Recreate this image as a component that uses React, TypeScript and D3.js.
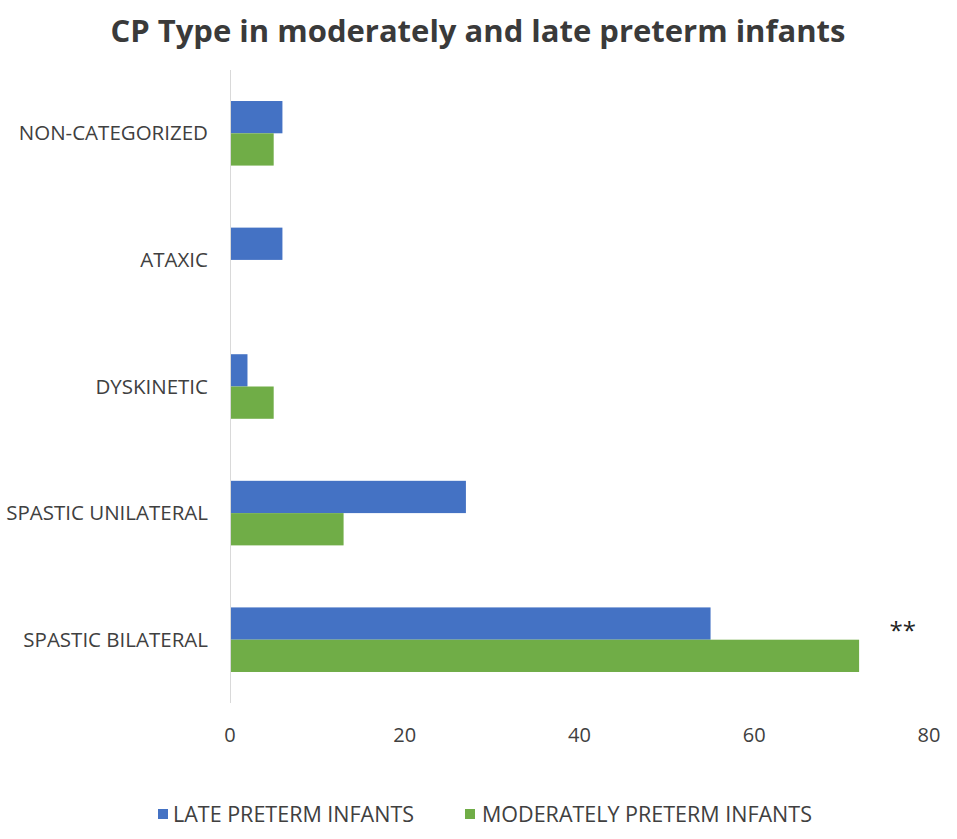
import React from 'react';
import * as d3 from 'd3';

const categories = ['NON-CATEGORIZED', 'ATAXIC', 'DYSKINETIC', 'SPASTIC UNILATERAL', 'SPASTIC BILATERAL'];
const seriesNames = ['LATE PRETERM INFANTS', 'MODERATELY PRETERM INFANTS'];
const latePreterm = [6, 6, 2, 27, 55];
const moderatelyPreterm = [5, 0, 5, 13, 72];
const xTicks = [0, 20, 40, 60, 80];
const colors = ['#4472C4', '#70AD47'];

const width = 957;
const height = 839;
const margin = { top: 70, right: 28, bottom: 136, left: 230 };
const font = "'Open Sans', 'Liberation Sans', sans-serif";

export default function App() {
  const innerW = width - margin.left - margin.right;
  const innerH = height - margin.top - margin.bottom;

  const x = d3.scaleLinear().domain([0, 80]).range([0, innerW]);
  const y = d3.scaleBand<string>().domain(categories).range([0, innerH]).paddingInner(0.49).paddingOuter(0.245);
  const sub = d3.scaleBand<string>().domain(seriesNames).range([0, y.bandwidth()]);

  const series = [latePreterm, moderatelyPreterm];

  return (
    <svg width={width} height={height} style={{ display: 'block', position: 'absolute', left: 0, top: 0, background: '#fff' }}>
      <text x={478} y={42} textAnchor="middle" fontFamily={font} fontWeight="bold" fontSize={31} fill="#3a3a3a">
        CP Type in moderately and late preterm infants
      </text>
      <g transform={`translate(${margin.left},${margin.top})`}>
        {series.map((vals, si) =>
          categories.map((c, ci) =>
            vals[ci] > 0 ? (
              <rect
                key={`${si}-${ci}`}
                x={x(0)}
                y={(y(c) as number) + (sub(seriesNames[si]) as number)}
                width={x(vals[ci]) - x(0)}
                height={sub.bandwidth()}
                fill={colors[si]}
              />
            ) : null
          )
        )}
        <line x1={0.5} x2={0.5} y1={0} y2={innerH} stroke="#d9d9d9" strokeWidth={1} />
        {categories.map((c) => (
          <text
            key={c}
            x={-22}
            y={(y(c) as number) + y.bandwidth() / 2}
            dy="0.35em"
            textAnchor="end"
            fontFamily={font}
            fontSize={20.5}
            fill="#404040"
          >
            {c}
          </text>
        ))}
        {xTicks.map((t) => (
          <text
            key={t}
            x={x(t)}
            y={innerH + 39}
            textAnchor="middle"
            fontFamily={font}
            fontSize={20}
            fill="#404040"
          >
            {t}
          </text>
        ))}
        <text
          x={x(77)}
          y={(y('SPASTIC BILATERAL') as number) + 32}
          textAnchor="middle"
          fontFamily={font}
          fontSize={24}
          fill="#222"
        >
          **
        </text>
      </g>
      <g transform="translate(158,814)">
        <rect x={0} y={-5} width={10} height={10} fill={colors[0]} />
        <text x={15} y={0} dy="0.35em" fontFamily={font} fontSize={21.5} fill="#404040">
          {seriesNames[0]}
        </text>
        <rect x={307} y={-5} width={10} height={10} fill={colors[1]} />
        <text x={324} y={0} dy="0.35em" fontFamily={font} fontSize={21.5} fill="#404040">
          {seriesNames[1]}
        </text>
      </g>
    </svg>
  );
}
